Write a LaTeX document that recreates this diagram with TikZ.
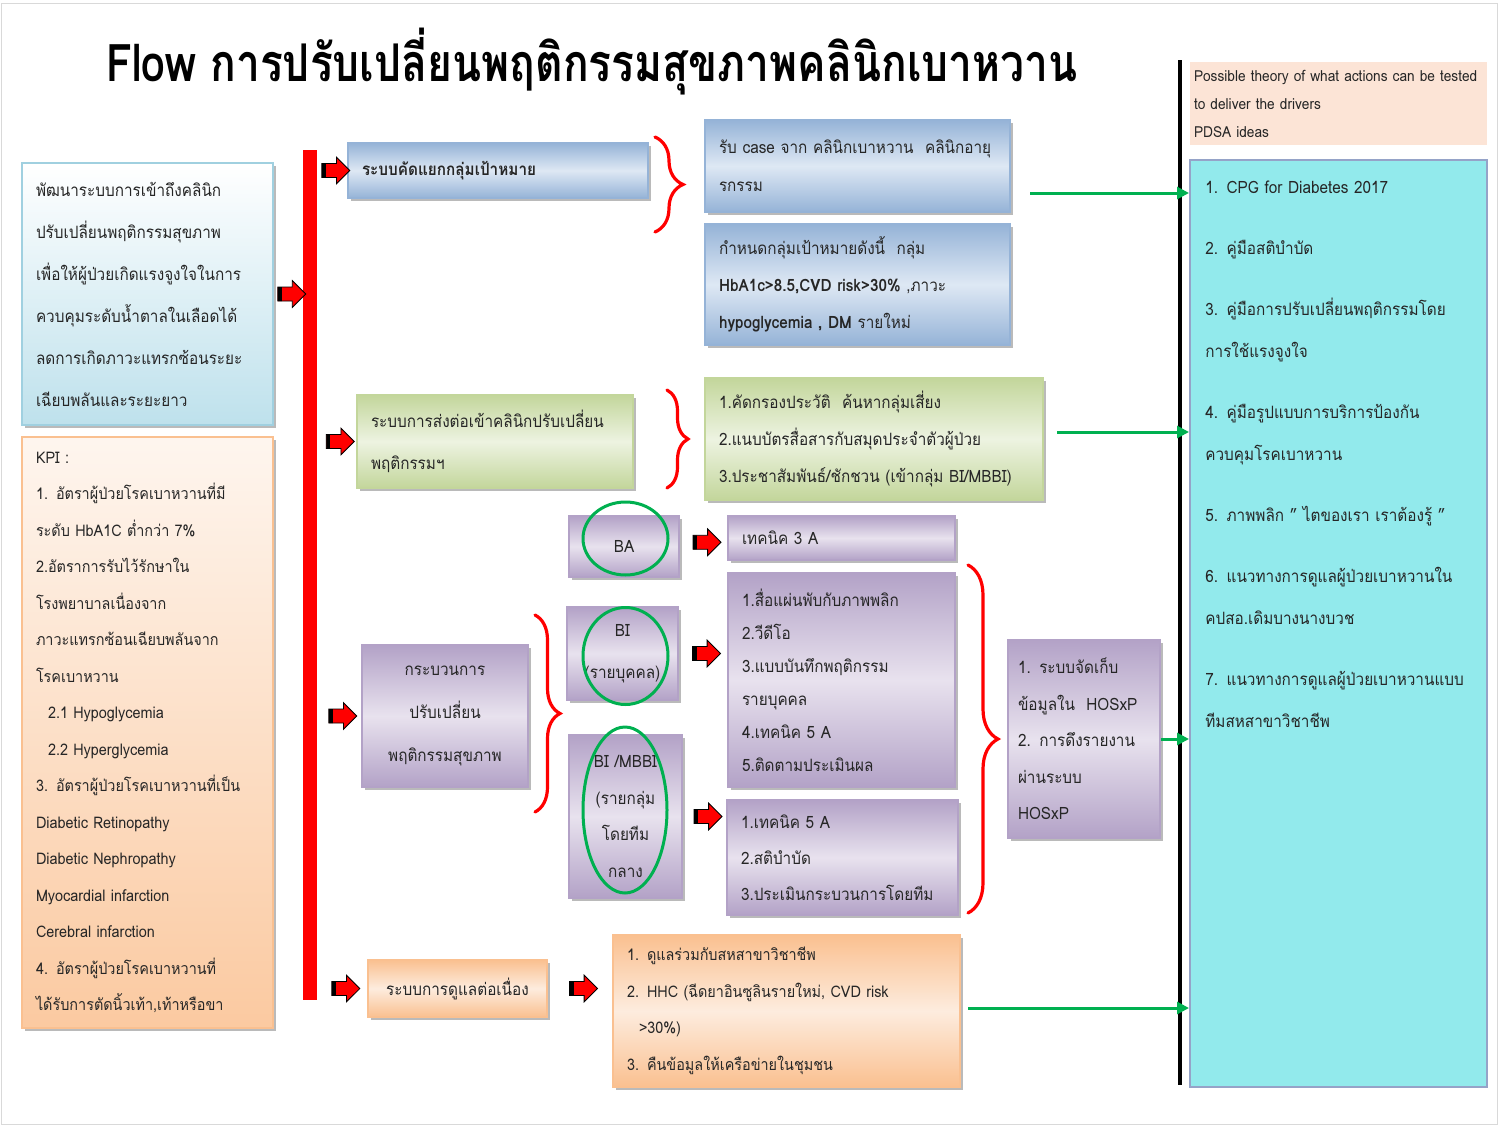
\documentclass[tikz,border=0pt]{standalone}
\usepackage{fontspec}
\setmainfont[Script=Thai, FakeStretch=0.9]{Loma}
\usepackage{tikz}
\usetikzlibrary{arrows.meta,shapes.arrows,shadows,decorations.pathreplacing,calc}

\definecolor{bluedk}{RGB}{149,179,215}
\definecolor{bluelt}{RGB}{222,232,244}
\definecolor{greendk}{RGB}{195,214,155}
\definecolor{greenlt}{RGB}{237,243,225}
\definecolor{purpledk}{RGB}{179,162,199}
\definecolor{purplelt}{RGB}{232,226,238}
\definecolor{peachdk}{RGB}{250,192,144}
\definecolor{peachlt}{RGB}{253,236,222}
\definecolor{peachbg}{RGB}{252,228,214}
\definecolor{aqua}{RGB}{146,234,236}
\definecolor{aquaedge}{RGB}{149,163,200}
\definecolor{skyedge}{RGB}{160,208,224}
\definecolor{sky}{RGB}{190,225,236}
\definecolor{flowred}{RGB}{255,0,0}
\definecolor{flowgreen}{RGB}{0,176,80}
\definecolor{ink}{RGB}{38,38,38}

\tikzset{
  card/.style={draw=#1, line width=0.8pt, align=left, inner xsep=7pt, inner ysep=3pt, text=ink,
    drop shadow={shadow xshift=1.6pt, shadow yshift=-1.6pt, fill=black!45, opacity=0.6}},
  bluecard/.style={card=bluedk, top color=bluedk, bottom color=bluedk, middle color=bluelt},
  greencard/.style={card=greendk, top color=greendk, bottom color=greendk, middle color=greenlt},
  purplecard/.style={card=purpledk, top color=purpledk, bottom color=purpledk, middle color=purplelt},
  peachcard/.style={card=peachdk, top color=peachdk, bottom color=peachdk, middle color=peachlt},
  goalcard/.style={card=skyedge, top color=white, bottom color=sky},
  kpicard/.style={card=peachdk, top color=peachlt!50!white, bottom color=peachdk!85!white},
  redarrow/.style={single arrow, draw=black, line width=0.4pt, fill=flowred, minimum height=14pt,
    inner sep=3.3pt, single arrow head extend=3.2pt,
    path picture={\fill[black] (path picture bounding box.north west) rectangle ([xshift=2pt]path picture bounding box.south west);}},
  greenarrow/.style={draw=flowgreen, line width=1.5pt, -{Triangle[length=6pt,width=6pt]}},
  curly/.style={draw=flowred, line width=1.6pt, line cap=round, decorate, decoration={brace, amplitude=#1, aspect=0.5}},
  ring/.style={draw=flowgreen, line width=1.5pt},
  txt/.style={font=\fontsize{8.5}{#1}\selectfont}
}

\begin{document}
\begin{tikzpicture}
[x=0.5pt,y=0.5pt,yscale=-1,xscale=1]
\useasboundingbox (0,0) rectangle (1500,1125);
\draw [black!15] (1,3) rectangle (1497,1124);

% title
\node (title) at (592,62) [xscale=0.91, font=\fontsize{26}{30}\selectfont\bfseries] {Flow การปรับเปลี่ยนพฤติกรรมสุขภาพคลินิกเบาหวาน};

% divider
\draw [line width=2pt] (1180,60) -- (1180,1085);

% left column
\node (goal) at (147.5,294) [goalcard, minimum width=125.5pt, minimum height=131pt, text width=111.5pt, txt=21] {พัฒนาระบบการเข้าถึงคลินิก\\ปรับเปลี่ยนพฤติกรรมสุขภาพ\\เพื่อให้ผู้ป่วยเกิดแรงจูงใจในการ\\ควบคุมระดับน้ำตาลในเลือดได้\\ลดการเกิดภาวะแทรกซ้อนระยะ\\เฉียบพลันและระยะยาว};
\node (kpi) at (147.5,732.5) [kpicard, minimum width=125.5pt, minimum height=295.5pt, text width=111.5pt, font=\fontsize{8}{18.25}\selectfont] {KPI :\\1. อัตราผู้ป่วยโรคเบาหวานที่มี\\ระดับ HbA1C ต่ำกว่า 7\%\\2.อัตราการรับไว้รักษาใน\\โรงพยาบาลเนื่องจาก\\ภาวะแทรกซ้อนเฉียบพลันจาก\\โรคเบาหวาน\\\hspace*{6pt}2.1 Hypoglycemia\\\hspace*{6pt}2.2 Hyperglycemia\\3. อัตราผู้ป่วยโรคเบาหวานที่เป็น\\Diabetic Retinopathy\\Diabetic Nephropathy\\Myocardial infarction\\Cerebral infarction\\4. อัตราผู้ป่วยโรคเบาหวานที่\\ได้รับการตัดนิ้วเท้า,เท้าหรือขา};

\node (bar) at (310,575) [fill=flowred, minimum width=7pt, minimum height=425pt, inner sep=0pt] {};
\node (a0) at ($(goal.east)!0.5!(goal.east -| bar.west)$) [redarrow] {};

% target group
\node (sel) at (498,170.5) [bluecard, minimum width=150pt, minimum height=27.5pt, text width=136pt, font=\fontsize{8.5}{12}\selectfont\bfseries] {ระบบคัดแยกกลุ่มเป้าหมาย};
\node (caseA) at (857.5,166) [bluecard, minimum width=152.5pt, minimum height=46pt, text width=138.5pt, txt=19] {รับ case จาก คลินิกเบาหวาน~~คลินิกอายุ\\รกรรม};
\node (target) at (857.5,284.5) [bluecard, minimum width=152.5pt, minimum height=60.5pt, text width=138.5pt, txt=18.5] {กำหนดกลุ่มเป้าหมายดังนี้~~กลุ่ม\\\textbf{HbA1c>8.5,CVD risk>30\%} ,ภาวะ\\\textbf{hypoglycemia , DM} รายใหม่};
\draw [curly=14pt] (655,137) -- (655,232);

% referral
\node (refer) at (495,441.5) [greencard, minimum width=138pt, minimum height=46.5pt, text width=124pt, txt=21] {ระบบการส่งต่อเข้าคลินิกปรับเปลี่ยน\\พฤติกรรมฯ};
\node (screen) at (874,439) [greencard, minimum width=169pt, minimum height=61pt, text width=155pt, txt=18.5] {1.คัดกรองประวัติ~~ค้นหากลุ่มเสี่ยง\\2.แนบบัตรสื่อสารกับสมุดประจำตัวผู้ป่วย\\3.ประชาสัมพันธ์/ชักชวน (เข้ากลุ่ม BI/MBBI)};
\draw [curly=10.5pt] (667,390) -- (667,488);

% behaviour change process
\node (process) at (445,716) [purplecard, minimum width=83pt, minimum height=71pt, text width=75pt, inner xsep=4pt, align=center, txt=21.5] {กระบวนการ\\ปรับเปลี่ยน\\พฤติกรรมสุขภาพ};
\draw [curly=12.5pt] (535,615) -- (535,812);
\node (ba) at (624,546.5) [purplecard, minimum width=55pt, minimum height=30.5pt, text width=51pt, inner xsep=2pt, align=center, txt=12] {BA};
\node (bi) at (622.5,653.5) [purplecard, minimum width=55.5pt, minimum height=46.5pt, text width=51.5pt, inner xsep=2pt, align=center, txt=21] {BI\\(รายบุคคล)};
\node (mbbi) at (625.5,816.5) [purplecard, minimum width=56.5pt, minimum height=81.5pt, text width=52.5pt, inner xsep=2pt, align=center, txt=18.25] {BI /MBBI\\(รายกลุ่ม\\โดยทีม\\กลาง};
\draw [ring] (625.5,538.5) ellipse (42.5 and 36.5);
\draw [ring] (625.5,656) ellipse (42.5 and 48.5);
\draw [ring] (625,810) ellipse (42 and 83);

\node (tech3) at (841.5,538) [purplecard, minimum width=113.5pt, minimum height=22pt, text width=99.5pt, txt=12] {เทคนิค 3 A};
\node (media) at (841.5,680) [purplecard, minimum width=113.5pt, minimum height=107pt, text width=99.5pt, txt=16.5] {1.สื่อแผ่นพับกับภาพพลิก\\2.วีดีโอ\\3.แบบบันทึกพฤติกรรม\\รายบุคคล\\4.เทคนิค 5 A\\5.ติดตามประเมินผล};
\node (team) at (842.5,857.5) [purplecard, minimum width=115.5pt, minimum height=57.5pt, text width=101.5pt, txt=18] {1.เทคนิค 5 A\\2.สติบำบัด\\3.ประเมินกระบวนการโดยทีม};
\node (a5) at ($(ba.east)!0.5!(tech3.west)$) [redarrow] {};
\node (a6) at ($(bi.east)!0.5!(bi.east -| media.west)$) [redarrow] {};
\node (a7) at ($(mbbi.east)!0.5!(mbbi.east -| team.west)$) [redarrow] {};

\draw [curly=15pt] (968,565) -- (968,913);
\node (hosxp) at (1084,739) [purplecard, minimum width=76pt, minimum height=99pt, text width=66pt, inner xsep=5pt, txt=18.25] {1. ระบบจัดเก็บ\\ข้อมูลใน~~HOSxP\\2. การดึงรายงาน\\ผ่านระบบ\\HOSxP};

% continuing care
\node (cont) at (457.5,988.5) [peachcard, minimum width=89.5pt, minimum height=28.5pt, text width=83.5pt, inner xsep=3pt, align=center, txt=12] {ระบบการดูแลต่อเนื่อง};
\node (home) at (786.5,1011) [peachcard, minimum width=173.5pt, minimum height=76pt, text width=159.5pt, font=\fontsize{8}{18.25}\selectfont] {1. ดูแลร่วมกับสหสาขาวิชาชีพ\\2. HHC (ฉีดยาอินซูลินรายใหม่, CVD risk\\\hspace*{6pt}>30\%)\\3. คืนข้อมูลให้เครือข่ายในชุมชน};
\node (a8) at ($(cont.east)!0.5!(cont.east -| home.west)$) [redarrow] {};

% arrows off the red bar
\node (a1) at ($(bar.east |- sel.west)!0.5!(sel.west)$) [redarrow] {};
\node (a2) at ($(bar.east |- refer.west)!0.5!(refer.west)$) [redarrow] {};
\node (a3) at ($(bar.east |- process.west)!0.5!(process.west)$) [redarrow] {};
\node (a4) at ($(bar.east |- cont.west)!0.5!(cont.west)$) [redarrow] {};

% PDSA column
\node (pdsa) at (1338.5,103.5) [fill=peachbg, minimum width=148.5pt, minimum height=41.5pt, text width=144.5pt, inner xsep=2pt, align=left, text=ink, font=\fontsize{7.6}{14}\selectfont] {Possible theory of what actions can be tested\\to deliver the drivers\\PDSA ideas};
\node (ideas) at (1338.5,623.5) [draw=aquaedge, line width=1pt, fill=aqua, minimum width=148.5pt, minimum height=463.5pt] {};
\node (ideastxt) at (1205,193) [anchor=base west, inner sep=0pt, text width=140pt, align=left, text=ink, txt=21] {1. CPG for Diabetes 2017\\[9.5pt]2. คู่มือสติบำบัด\\[9.5pt]3. คู่มือการปรับเปลี่ยนพฤติกรรมโดย\\การใช้แรงจูงใจ\\[9.5pt]4. คู่มือรูปแบบการบริการป้องกัน\\ควบคุมโรคเบาหวาน\\[9.5pt]5. ภาพพลิก " ไตของเรา เราต้องรู้ "\\[9.5pt]6. แนวทางการดูแลผู้ป่วยเบาหวานใน\\คปสอ.เดิมบางนางบวช\\[9.5pt]7. แนวทางการดูแลผู้ป่วยเบาหวานแบบ\\ทีมสหสาขาวิชาชีพ};

% green links
\coordinate (g1) at (1030,193);
\coordinate (g2) at (1057,432);
\coordinate (g4) at (968,1008);
\draw [greenarrow] (g1) -- (g1 -| ideas.west);
\draw [greenarrow] (g2) -- (g2 -| ideas.west);
\draw [greenarrow] (hosxp.east) -- (hosxp.east -| ideas.west);
\draw [greenarrow] (g4) -- (g4 -| ideas.west);

\end{tikzpicture}
\end{document}
